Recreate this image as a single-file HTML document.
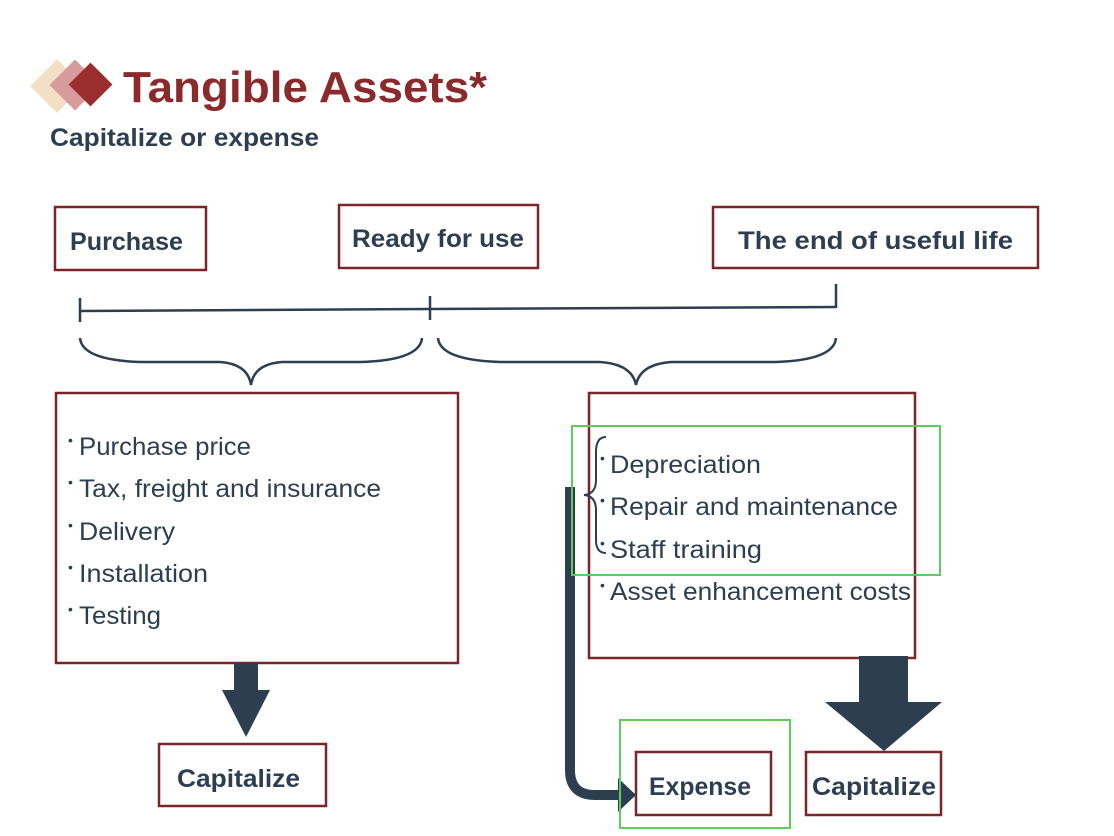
<!DOCTYPE html>
<html><head><style>
body{margin:0;background:#fff;}
svg{display:block;}
text{font-family:"Liberation Sans",sans-serif;}
</style></head><body>
<svg width="1114" height="836" viewBox="0 0 1114 836" xmlns="http://www.w3.org/2000/svg">
<g>
<rect x="38" y="67" width="38" height="38" fill="#f3dfc6" transform="rotate(45 57 86)"/>
<rect x="57" y="67" width="36" height="36" fill="#d99a9c" transform="rotate(45 75 85)"/>
<rect x="75" y="69" width="31" height="31" fill="#9a2d2e" transform="rotate(45 90.5 84.5)"/>
</g>
<text x="123" y="102" font-size="44" font-weight="bold" fill="#8b2a2b" textLength="364" lengthAdjust="spacingAndGlyphs">Tangible Assets*</text>
<text x="50" y="146" font-size="25" font-weight="bold" fill="#2c3e50" textLength="269" lengthAdjust="spacingAndGlyphs">Capitalize or expense</text>

<g fill="none" stroke="#7b2528" stroke-width="2.5">
<rect x="55" y="207" width="151" height="63"/>
<rect x="339" y="205" width="199" height="63"/>
<rect x="713" y="207" width="325" height="61"/>
<rect x="56" y="393" width="402" height="270"/>
<rect x="589" y="393" width="326" height="265"/>
<rect x="159" y="744" width="167" height="62"/>
<rect x="636" y="752" width="135" height="63"/>
<rect x="806" y="752" width="135" height="63"/>
</g>
<g fill="#2c3e50" font-weight="bold" font-size="25">
<text x="70" y="250" textLength="113" lengthAdjust="spacingAndGlyphs">Purchase</text>
<text x="352" y="247" textLength="172" lengthAdjust="spacingAndGlyphs">Ready for use</text>
<text x="738" y="249" textLength="275" lengthAdjust="spacingAndGlyphs">The end of  useful life</text>
<text x="177" y="787" textLength="123" lengthAdjust="spacingAndGlyphs">Capitalize</text>
<text x="649" y="795" textLength="102" lengthAdjust="spacingAndGlyphs">Expense</text>
<text x="812" y="795" textLength="124" lengthAdjust="spacingAndGlyphs">Capitalize</text>
</g>

<g stroke="#2c3e50" stroke-width="2.5" fill="none">
<path d="M80 311 L430 309 L836 307"/>
<path d="M80 298 V322 M430 296 V320 M836 284 V308"/>
<path d="M80 338 Q82 360 140 362 L220 362 Q248 364 251 385 Q254 364 282 362 L362 362 Q420 360 422 338"/>
<path d="M438 338 Q440 360 500 362 L600 362 Q632 364 636 385 Q640 364 672 362 L776 362 Q834 360 836 338"/>
<path d="M606 437 Q596 437 596 452 L596 480 Q596 494 584 495 Q596 496 596 510 L596 540 Q596 553 606 553" stroke-width="2"/>
</g>

<g fill="#2c3e50" font-size="25">
<g font-size="14">
<text x="68" y="445">•</text><text x="68" y="487">•</text><text x="68" y="530">•</text><text x="68" y="572">•</text><text x="68" y="614">•</text>
<text x="600" y="463">•</text><text x="600" y="505">•</text><text x="600" y="548">•</text><text x="600" y="590">•</text>
</g>
<text x="79" y="455" textLength="172" lengthAdjust="spacingAndGlyphs">Purchase price</text>
<text x="79" y="497" textLength="302" lengthAdjust="spacingAndGlyphs">Tax, freight and insurance</text>
<text x="79" y="540" textLength="96" lengthAdjust="spacingAndGlyphs">Delivery</text>
<text x="79" y="582" textLength="129" lengthAdjust="spacingAndGlyphs">Installation</text>
<text x="79" y="624" textLength="82" lengthAdjust="spacingAndGlyphs">Testing</text>
<text x="610" y="473" textLength="151" lengthAdjust="spacingAndGlyphs">Depreciation</text>
<text x="610" y="515" textLength="288" lengthAdjust="spacingAndGlyphs">Repair and maintenance</text>
<text x="610" y="558" textLength="152" lengthAdjust="spacingAndGlyphs">Staff training</text>
<text x="610" y="600" textLength="301" lengthAdjust="spacingAndGlyphs">Asset enhancement costs</text>
</g>

<path d="M570 487 L570 770 Q570 795 595 795 L622 795" stroke="#2c3e50" stroke-width="10" fill="none"/>
<polygon points="618,778 636,795 618,812" fill="#2c3e50"/>
<polygon points="234,663 258,663 258,690 270,690 246,737 222,690 234,690" fill="#2c3e50"/>
<polygon points="859,656 908,656 908,702 942,702 884,751 825,702 859,702" fill="#2c3e50"/>

<g fill="none" stroke="#5ccc5c" stroke-width="2">
<rect x="572" y="426" width="368" height="149"/>
<rect x="620" y="720" width="170" height="108"/>
</g>
</svg>
</body></html>
